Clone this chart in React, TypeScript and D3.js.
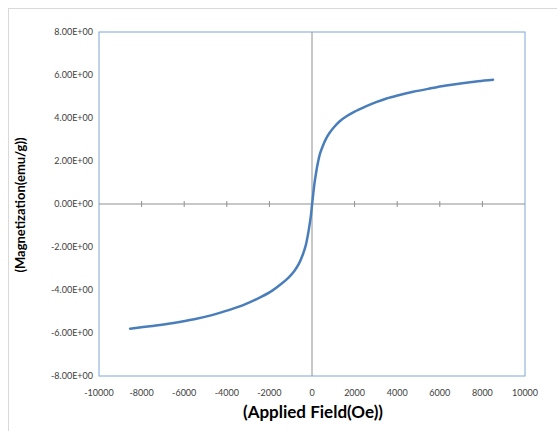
import React from "react";
import * as d3 from "d3";

const fieldOe = [-8540, -7500, -6500, -5530, -4700, -3960, -3150, -2390, -1900, -1450, -1100, -820, -600, -430, -300, -195, -100, -40, 0, 50, 117, 200, 272, 380, 507, 650, 820, 1040, 1290, 1620, 2000, 2500, 3010, 3500, 4020, 4750, 5520, 6300, 7060, 7800, 8500];
const magnetization = [-5.8, -5.67, -5.53, -5.36, -5.17, -4.95, -4.67, -4.32, -4.05, -3.72, -3.42, -3.1, -2.75, -2.35, -1.95, -1.45, -0.88, -0.45, -0.05, 0.4, 0.97, 1.5, 1.9, 2.35, 2.7, 3.02, 3.3, 3.58, 3.84, 4.08, 4.3, 4.53, 4.74, 4.91, 5.05, 5.22, 5.37, 5.51, 5.62, 5.71, 5.78];
const xTicks = [-10000, -8000, -6000, -4000, -2000, 0, 2000, 4000, 6000, 8000, 10000];
const yTicks = [8, 6, 4, 2, 0, -2, -4, -6, -8];
const xTitle = "(Applied Field(Oe))";
const yTitle = "(Magnetization(emu/g))";

const W = 557;
const H = 431;
const left = 99;
const right = 525;
const top = 32;
const bottom = 376;
const font = "Lato, 'Open Sans', sans-serif";

export default function App() {
  const x = d3.scaleLinear().domain([-10000, 10000]).range([left, right]);
  const y = d3.scaleLinear().domain([-8, 8]).range([bottom, top]);
  const data = fieldOe.map((h, i) => [h, magnetization[i]] as [number, number]);
  const line = d3
    .line<[number, number]>()
    .x((d) => x(d[0]))
    .y((d) => y(d[1]))
    .curve(d3.curveCatmullRom.alpha(0.5));
  const fmt = (v: number) => (v < 0 ? "-" : "") + Math.abs(v).toFixed(2) + "E+00";

  return (
    <svg
      width={W}
      height={H}
      style={{ position: "absolute", left: 0, top: 0, display: "block" }}
    >
      <rect x={0} y={0} width={W} height={H} fill="#ffffff" />
      <rect x={8.5} y={8.5} width={W + 10} height={H + 10} fill="none" stroke="#d9d9d9" strokeWidth={1} />
      <rect x={left} y={top} width={right - left} height={bottom - top} fill="#ffffff" stroke="#7ea6d8" strokeWidth={1} />
      <line x1={left} x2={right} y1={y(0)} y2={y(0)} stroke="#909090" strokeWidth={1} />
      <line x1={x(0)} x2={x(0)} y1={top} y2={bottom} stroke="#909090" strokeWidth={1} />
      {xTicks
        .filter((t) => t !== 0 && Math.abs(t) < 10000)
        .map((t) => (
          <line key={"xt" + t} x1={x(t)} x2={x(t)} y1={y(0) - 3} y2={y(0) + 3} stroke="#909090" strokeWidth={1} />
        ))}
      <path d={line(data) || ""} fill="none" stroke="#4a7ebb" strokeWidth={2.5} strokeLinecap="round" strokeLinejoin="round" />
      {yTicks.map((t) => (
        <text key={"yl" + t} x={93} y={y(t)} dy="0.35em" textAnchor="end" fontSize={9} fontFamily={font} fill="#404040">
          {fmt(t)}
        </text>
      ))}
      {xTicks.map((t) => (
        <text key={"xl" + t} x={x(t)} y={393} dy="0.35em" textAnchor="middle" fontSize={9} fontFamily={font} fill="#404040">
          {t}
        </text>
      ))}
      <text x={313} y={418} textAnchor="middle" fontSize={17} fontWeight="bold" fontFamily={font} fill="#000000">
        {xTitle}
      </text>
      <text
        transform={`translate(25, 205) rotate(-90)`}
        textAnchor="middle"
        fontSize={13}
        fontWeight="bold"
        fontFamily={font}
        fill="#000000"
      >
        {yTitle}
      </text>
    </svg>
  );
}
